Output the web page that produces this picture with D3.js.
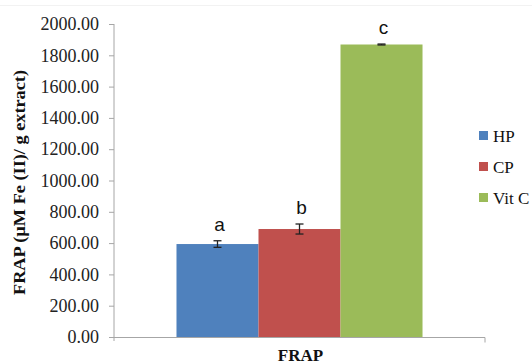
<!DOCTYPE html>
<html>
<head>
<meta charset="utf-8">
<script src="https://cdn.jsdelivr.net/npm/d3@7"></script>
<style>
  body { margin: 0; background: #fff; }
  svg { display: block; }
</style>
</head>
<body>
<div id="chart"></div>
<script>
// chart data
var categories = ["FRAP"];
var series = ["HP", "CP", "Vit C"];
var values = [594, 690, 1869];
var errors = [21, 32, 3];
var letters = ["a", "b", "c"];
var colors = ["#4f81bd", "#c0504d", "#9bbb59"];
var yTicks = [0, 200, 400, 600, 800, 1000, 1200, 1400, 1600, 1800, 2000];

const width = 532;
const height = 364;
const margin = { top: 24, right: 47, bottom: 27, left: 114 };

const svg = d3.select("#chart")
    .append("svg")
    .attr("width", width)
    .attr("height", height);

// faint frame line at the top
svg.append("line")
    .attr("x1", 0).attr("x2", width)
    .attr("y1", 5.5).attr("y2", 5.5)
    .attr("stroke", "#f2f2f2");

const y = d3.scaleLinear()
    .domain([0, 2000])
    .range([height - margin.bottom, margin.top]);

const x0 = d3.scaleBand()
    .domain(categories)
    .range([margin.left, width - margin.right])
    .paddingInner(0)
    .paddingOuter(0.254);

const x1 = d3.scaleBand()
    .domain(series)
    .range([0, x0.bandwidth()]);

// y axis
const yAxis = svg.append("g")
    .attr("transform", `translate(${margin.left},0)`)
    .call(d3.axisLeft(y).tickValues(yTicks).tickFormat(d3.format(".2f")).tickSize(5).tickPadding(10));

yAxis.select(".domain").attr("stroke", "#a6a6a6").attr("d", `M0,${y(2000)}V${y(0) + 4}`);
yAxis.selectAll(".tick line").attr("stroke", "#a6a6a6");
yAxis.selectAll(".tick text")
    .attr("fill", "#222")
    .style("font-family", "'Liberation Serif', 'Times New Roman', serif")
    .style("font-size", "18px");

// x axis
const xAxis = svg.append("g")
    .attr("transform", `translate(0,${y(0)})`)
    .call(d3.axisBottom(x0).tickSize(0).tickFormat(""));
xAxis.select(".domain")
    .attr("stroke", "#a6a6a6")
    .attr("d", `M${margin.left},0.5H${width - margin.right}V5.5`);

// bars
const group = svg.append("g")
    .selectAll("g")
    .data(categories)
    .join("g")
    .attr("transform", d => `translate(${x0(d)},0)`);

const items = series.map((s, i) => ({ s: s, v: values[i], e: errors[i], l: letters[i], c: colors[i] }));

group.selectAll("rect")
    .data(items)
    .join("rect")
    .attr("x", d => x1(d.s))
    .attr("y", d => y(d.v))
    .attr("width", x1.bandwidth())
    .attr("height", d => y(0) - y(d.v))
    .attr("fill", d => d.c);

// error bars
const err = group.selectAll(".err")
    .data(items)
    .join("g")
    .attr("class", "err")
    .attr("stroke", "#222")
    .attr("stroke-width", 1.3);

err.append("line")
    .attr("x1", d => x1(d.s) + x1.bandwidth() / 2)
    .attr("x2", d => x1(d.s) + x1.bandwidth() / 2)
    .attr("y1", d => y(d.v + d.e))
    .attr("y2", d => y(d.v - d.e));

err.selectAll(".cap")
    .data(d => [{ d: d, v: d.v + d.e }, { d: d, v: d.v - d.e }])
    .join("line")
    .attr("class", "cap")
    .attr("x1", c => x1(c.d.s) + x1.bandwidth() / 2 - 4)
    .attr("x2", c => x1(c.d.s) + x1.bandwidth() / 2 + 4)
    .attr("y1", c => y(c.v))
    .attr("y2", c => y(c.v));

// significance letters
group.selectAll(".letter")
    .data(items)
    .join("text")
    .attr("class", "letter")
    .attr("x", d => x1(d.s) + x1.bandwidth() / 2 + 2)
    .attr("y", d => y(d.v + d.e) - 10)
    .attr("text-anchor", "middle")
    .style("font-family", "'Liberation Sans', Arial, sans-serif")
    .style("font-size", "19px")
    .attr("fill", "#111")
    .text(d => d.l);

// x axis title
svg.append("text")
    .attr("x", (margin.left + width - margin.right) / 2 + 1)
    .attr("y", 361)
    .attr("text-anchor", "middle")
    .style("font-family", "'Liberation Serif', 'Times New Roman', serif")
    .style("font-weight", "bold")
    .style("font-size", "17px")
    .attr("fill", "#111")
    .text("FRAP");

// y axis title
svg.append("text")
    .attr("transform", "translate(25,182.5) rotate(-90)")
    .attr("text-anchor", "middle")
    .attr("textLength", 225)
    .attr("lengthAdjust", "spacingAndGlyphs")
    .style("font-family", "'Liberation Serif', 'Times New Roman', serif")
    .style("font-weight", "bold")
    .style("font-size", "17px")
    .attr("fill", "#111")
    .text("FRAP (µM Fe (II)/ g extract)");

// legend
const legend = svg.append("g")
    .selectAll("g")
    .data(items)
    .join("g")
    .attr("transform", (d, i) => `translate(479,${131 + i * 31})`);

legend.append("rect")
    .attr("width", 9)
    .attr("height", 9)
    .attr("fill", d => d.c);

legend.append("text")
    .attr("x", 14)
    .attr("y", 11)
    .style("font-family", "'Liberation Serif', 'Times New Roman', serif")
    .style("font-size", "17px")
    .attr("fill", "#111")
    .text(d => d.s);
</script>
</body>
</html>
